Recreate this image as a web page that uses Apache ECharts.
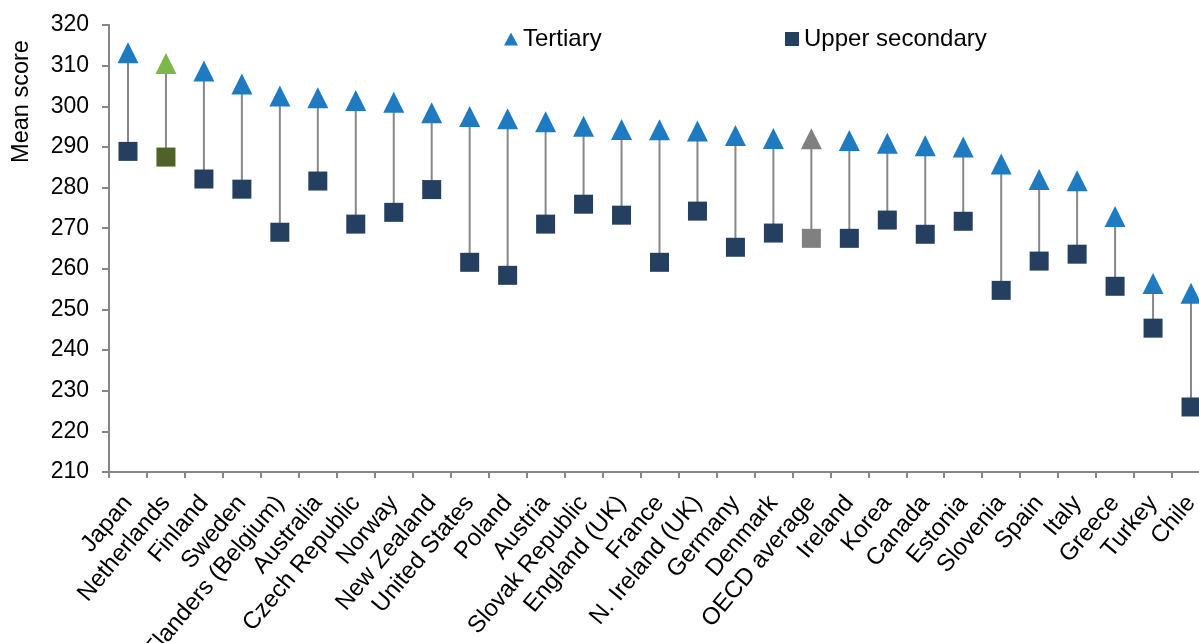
<!DOCTYPE html>
<html>
<head>
<meta charset="utf-8">
<script src="https://cdn.jsdelivr.net/npm/echarts@6/dist/echarts.min.js"></script>
<style>
  html, body { margin: 0; padding: 0; background: #ffffff; }
  #chart { width: 1199px; height: 643px; }
</style>
</head>
<body>
<div id="chart"></div>
<script>
const categories = ["Japan", "Netherlands", "Finland", "Sweden", "Flanders (Belgium)", "Australia", "Czech Republic", "Norway", "New Zealand", "United States", "Poland", "Austria", "Slovak Republic", "England (UK)", "France", "N. Ireland (UK)", "Germany", "Denmark", "OECD average", "Ireland", "Korea", "Canada", "Estonia", "Slovenia", "Spain", "Italy", "Greece", "Turkey", "Chile"];
const tertiary = [313.2, 310.5, 308.7, 305.5, 302.5, 302.1, 301.4, 301.0, 298.4, 297.5, 296.9, 296.2, 295.1, 294.3, 294.2, 293.9, 292.8, 292.1, 292.0, 291.6, 290.9, 290.3, 290.0, 285.8, 282.0, 281.7, 272.9, 256.4, 254.0];
const upperSecondary = [288.9, 287.5, 282.1, 279.6, 269.0, 281.6, 271.0, 273.9, 279.5, 261.6, 258.4, 271.0, 275.9, 273.2, 261.6, 274.2, 265.3, 268.8, 267.5, 267.5, 272.0, 268.5, 271.7, 254.7, 261.9, 263.6, 255.7, 245.4, 226.0];
const yTicks = { min: 210, max: 320, interval: 10 };

const FONT = 'Arial, "Liberation Sans", sans-serif';
const triColor = '#1F7BC1';
const sqColor = '#243F60';
const highlight = {
  'Netherlands': { tri: '#7DB84A', sq: '#4F6228' },
  'OECD average': { tri: '#808080', sq: '#808080' }
};

function styled(values, key, base) {
  return values.map((v, i) => {
    const h = highlight[categories[i]];
    return { value: v, itemStyle: { color: h ? h[key] : base, opacity: 1 } };
  });
}

const chart = echarts.init(document.getElementById('chart'), null, { renderer: 'canvas' });
chart.setOption({
  animation: false,
  backgroundColor: '#ffffff',
  grid: { left: 109, top: 25, height: 447, width: 1101, containLabel: false, outerBoundsMode: 'none' },
  legend: [
    { data: ['Tertiary'], left: 499, top: 22, itemWidth: 14, itemHeight: 13, itemGap: 5,
      textStyle: { fontFamily: FONT, fontSize: 24, color: '#000' } },
    { data: ['Upper secondary'], left: 780, top: 22, itemWidth: 14, itemHeight: 14, itemGap: 5,
      textStyle: { fontFamily: FONT, fontSize: 24, color: '#000' } }
  ],
  graphic: [{
    type: 'text', x: 22, y: 101.5, rotation: Math.PI / 2,
    style: { text: 'Mean score', fontFamily: FONT, fontSize: 23.5, fill: '#000', align: 'center', verticalAlign: 'middle' }
  }],
  xAxis: {
    type: 'category', data: categories, boundaryGap: true,
    axisLine: { lineStyle: { color: '#868686', width: 2 } },
    axisTick: { show: true, length: 6, alignWithLabel: false, lineStyle: { color: '#868686', width: 2 } },
    axisLabel: { interval: 0, rotate: 50, margin: 27, fontFamily: FONT, fontSize: 24, color: '#000' },
    splitLine: { show: false }
  },
  yAxis: {
    type: 'value', min: yTicks.min, max: yTicks.max, interval: yTicks.interval,
    axisLine: { show: true, lineStyle: { color: '#868686', width: 2 } },
    axisTick: { show: true, length: 7, lineStyle: { color: '#868686', width: 2 } },
    axisLabel: { margin: 20, fontFamily: FONT, fontSize: 23, color: '#000' },
    splitLine: { show: false }
  },
  series: [
    {
      type: 'custom', name: 'range', z: 1, silent: true,
      data: categories.map((c, i) => [i, upperSecondary[i], tertiary[i]]),
      renderItem: function (params, api) {
        const a = api.coord([api.value(0), api.value(1)]);
        const b = api.coord([api.value(0), api.value(2)]);
        return { type: 'line', shape: { x1: a[0], y1: a[1], x2: b[0], y2: b[1] },
                 style: { stroke: '#888888', lineWidth: 2 } };
      }
    },
    {
      type: 'scatter', name: 'Tertiary', z: 3, symbol: 'triangle', symbolSize: [21, 21],
      itemStyle: { color: triColor, opacity: 1 },
      data: styled(tertiary, 'tri', triColor)
    },
    {
      type: 'scatter', name: 'Upper secondary', z: 3, symbol: 'rect', symbolSize: [19, 19],
      itemStyle: { color: sqColor, opacity: 1 },
      data: styled(upperSecondary, 'sq', sqColor)
    }
  ]
});
</script>
</body>
</html>
